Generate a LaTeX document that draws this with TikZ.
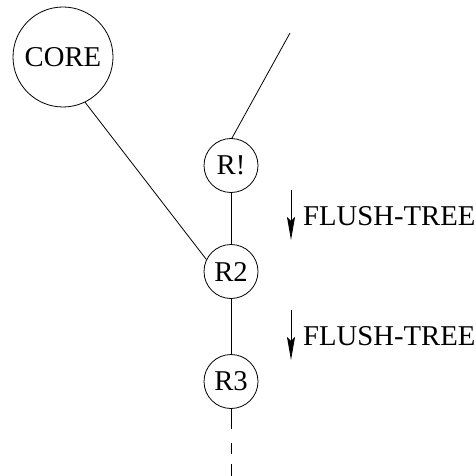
\documentclass[tikz,border=0pt]{standalone}
\usepackage{fontspec}
\setmainfont{Liberation Serif}
\usetikzlibrary{arrows.meta}
\begin{document}
\begin{tikzpicture}[x=1pt,y=-1pt,
  every node/.style={font=\fontsize{28.7}{30}\selectfont},
  router/.style={draw,circle,inner sep=0pt,minimum size=54pt,line width=0.8pt},
  corenode/.style={draw,circle,inner sep=0pt,minimum size=100pt,line width=0.8pt},
  link/.style={line width=0.8pt},
  flow/.style={line width=0.9pt,-{Stealth[length=23pt,width=8pt,inset=4pt]}},
  msg/.style={anchor=west,inner sep=0pt}]
  \useasboundingbox (0,0) rectangle (476,476);

  % routers and the core
  \node[corenode] (core) at (63,57) {CORE};
  \node[router] (r1) at (231,165.5) {R!};
  \node[router] (r2) at (231,271.5) {R2};
  \node[router] (r3) at (231,381.5) {R3};

  % free ends of the links
  \coordinate (up) at (290,33);
  \coordinate (down) at (231,476);

  % links of the tree
  \draw[link] (up) -- (r1.88);
  \draw[link] (core.-64) -- (r2.154);
  \draw[link] (r1.south) -- (r2.north);
  \draw[link] (r2.south) -- (r3.north);
  \draw[link,dash pattern=on 20pt off 14pt on 11pt off 10pt on 30pt] (r3.south) -- (down);

  % flush messages travelling down the tree
  \coordinate (a1s) at (291,190);
  \coordinate (a1e) at (291,240);
  \coordinate (a2s) at (291,310);
  \coordinate (a2e) at (291,360);
  \draw[flow] (a1s) -- (a1e);
  \draw[flow] (a2s) -- (a2e);
  \node[msg] (m1) at (303,216.5) {FLUSH-TREE};
  \node[msg] (m2) at (303,336.5) {FLUSH-TREE};
\end{tikzpicture}
\end{document}
